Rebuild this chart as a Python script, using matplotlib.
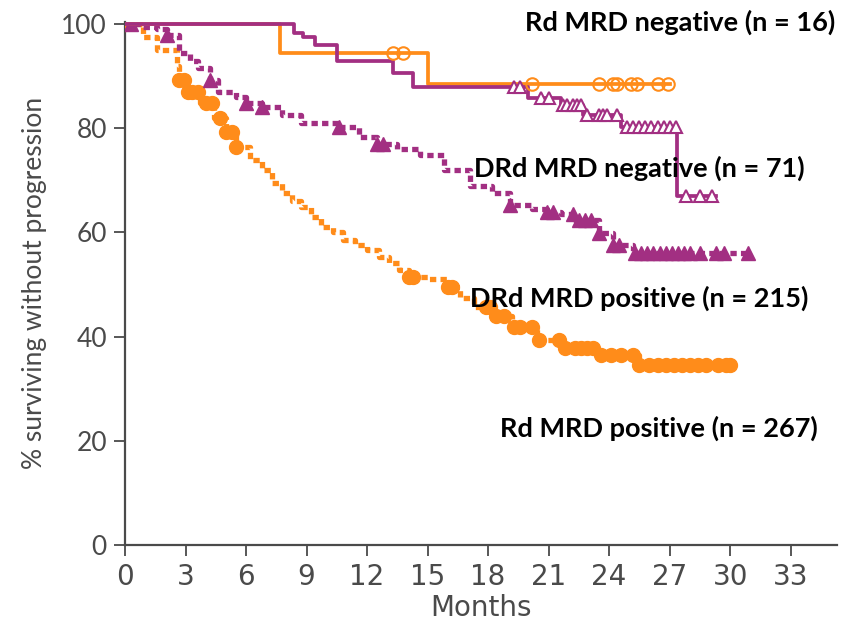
import numpy as np
import matplotlib
matplotlib.use('Agg')
from matplotlib import pyplot as plt

orange = '#ff8c1a'
purple = '#a22f82'
grey = '#4a4a4a'

# Rd MRD negative (solid orange, open circles)
rdneg_t = [0, 7.7, 15.0, 27.0]
rdneg_s = [100, 94.4, 88.5, 88.5]
rdneg_cens = [13.3, 13.8, 20.2, 23.5, 24.2, 24.4, 25.1, 25.4, 26.4, 26.9]

# DRd MRD negative curve (solid purple, open triangles)
drdneg_t = [0, 8.4, 8.8, 9.4, 10.5, 13.3, 14.3, 20.0, 21.6, 22.7, 24.6, 27.35, 29.3]
drdneg_s = [100, 98.3, 97.5, 96, 93, 90.6, 88, 85.8, 84.5, 82.5, 80.3, 67, 67]
drdneg_cens = [19.3, 19.6, 20.6, 21.0, 21.7, 21.9, 22.2, 22.4, 22.6, 22.9, 23.5, 23.7,
               23.9, 24.4, 24.9, 25.2, 25.5, 25.8, 26.1, 26.4, 26.7, 27.0, 27.3,
               27.8, 28.5, 29.1]

# dotted purple, filled triangles
drdpos_t = [0, 0.8, 1.6, 2.1, 2.7, 3.2, 3.6, 4.2, 4.6, 5.5, 6.0, 6.8, 7.8, 8.7, 10.6,
            11.6, 12.5, 13.5, 14.6, 15.8, 17.1, 18.2, 19.1, 20.2, 20.9, 21.6, 22.3,
            23.5, 24.2, 25.2, 31.0]
drdpos_s = [100, 99.5, 99, 98, 94.5, 93, 91.5, 89.3, 87, 86, 84.8, 84, 82.5, 81, 80.3,
            78.3, 77, 76, 74.9, 72, 69, 67.5, 65.3, 64.5, 64, 63.5, 62.4,
            59.9, 57.6, 56, 56]
drdpos_cens = [0.3, 2.1, 4.2, 6.0, 6.8, 10.6, 12.5, 12.8, 19.1, 20.9, 21.2, 22.2, 22.5,
               22.8, 23.1, 23.5, 24.2, 24.5, 25.3, 25.6, 25.9, 26.2, 26.5, 26.8, 27.1,
               27.4, 27.7, 28.0, 28.5, 29.3, 29.7, 30.9]

# dotted orange, filled circles
rdpos_t = [0, 0.9, 1.6, 2.6, 2.7, 3.1, 3.7, 4.4, 5.0, 5.5, 6.2, 6.8, 7.3, 7.8, 8.3, 8.7,
           9.2, 9.7, 10.3, 10.8, 11.4, 12.0, 12.6, 13.1, 13.6, 14.1, 15.0, 16.0, 16.6,
           17.3, 18.3, 19.2, 20.4, 21.6, 23.5, 25.5, 30.2]
rdpos_s = [100, 97.6, 95, 92, 89.3, 87, 84.8, 82, 79.3, 76.4, 74, 72, 69.5, 67.6, 66, 64.9,
           63, 61, 60, 58.5, 57.5, 56.6, 55.3, 54.1, 52.8, 51.4, 51, 49.5, 47.5,
           45.7, 44, 41.8, 39.3, 37.8, 36.5, 34.5, 34.5]
rdpos_cens = [0.0, 2.7, 2.9, 3.1, 3.3, 3.6, 4.0, 4.3, 4.7, 5.0, 5.3, 5.5, 14.1, 14.3,
              16.0, 16.2, 17.9, 18.1, 18.4, 18.8, 19.3, 19.6, 20.2, 20.5, 21.5, 21.8,
              22.3, 22.6, 22.9, 23.2, 23.6, 24.1, 24.6, 25.2, 25.5, 26.0, 26.4, 26.8,
              27.2, 27.6, 28.0, 28.4, 28.8, 29.4, 29.8, 30.0]

labels = ['Rd MRD negative (n = 16)', 'DRd MRD negative (n = 71)',
          'DRd MRD positive (n = 215)', 'Rd MRD positive (n = 267)']
xticks = np.arange(0, 34, 3)
yticks = np.arange(0, 101, 20)


def surv_at(t, times, surv):
    idx = np.searchsorted(times, t, side='right') - 1
    return np.array(surv)[idx]


fig = plt.figure(figsize=(8.42, 6.25), dpi=100)
ax = fig.add_axes([0.1485, 0.128, 0.8456, 0.8376])

dot = (0, (1.2, 0.8))
ax.step(rdpos_t, rdpos_s, where='post', color=orange, lw=3.8, ls=dot, zorder=2)
ax.plot(rdpos_cens, surv_at(rdpos_cens, rdpos_t, rdpos_s), 'o', color=orange, ms=10, zorder=3)
ax.step(drdpos_t, drdpos_s, where='post', color=purple, lw=3.8, ls=dot, zorder=2)
ax.plot(drdpos_cens, surv_at(drdpos_cens, drdpos_t, drdpos_s), '^', color=purple, ms=10, zorder=3)

ax.step(rdneg_t, rdneg_s, where='post', color=orange, lw=2.7, zorder=4)
ax.plot(rdneg_cens, surv_at(rdneg_cens, rdneg_t, rdneg_s), 'o', mfc='none', mec=orange,
        mew=1.5, ms=9, zorder=5)
ax.step(drdneg_t, drdneg_s, where='post', color=purple, lw=2.7, zorder=4)
ax.plot(drdneg_cens, surv_at(drdneg_cens, drdneg_t, drdneg_s), '^', mfc='white', mec=purple,
        mew=1.5, ms=8, zorder=5)

ax.set_xlim(0, 35.3)
ax.set_ylim(0, 100.5)
ax.set_xticks(xticks)
ax.set_yticks(yticks)
ax.set_xticklabels([str(v) for v in xticks], family=['Liberation Sans Narrow', 'DejaVu Sans'],
                   fontsize=20, color=grey)
ax.set_yticklabels([str(v) for v in yticks], family='Lato', fontsize=19, color=grey)
ax.tick_params(direction='out', length=8, width=1.3, color=grey, pad=5)
for s in ['top', 'right']:
    ax.spines[s].set_visible(False)
for s in ['left', 'bottom']:
    ax.spines[s].set_color(grey)
    ax.spines[s].set_linewidth(1.6)
ax.set_xlabel('Months', family=['Liberation Sans Narrow', 'DejaVu Sans'], fontsize=20,
              color=grey, labelpad=2)
ax.set_ylabel('% surviving without progression', family='Lato', fontsize=19, color=grey,
              labelpad=10)

font_lab = {'family': 'Lato', 'weight': 'bold', 'size': 19.5, 'color': 'black'}
pos = [(835, 22), (805, 168), (808, 298), (818, 428)]
for txt, (px, py) in zip(labels, pos):
    fig.text(px / 842, 1 - py / 625, txt, ha='right', va='center', fontdict=font_lab)

plt.savefig('out.png', dpi=100)
